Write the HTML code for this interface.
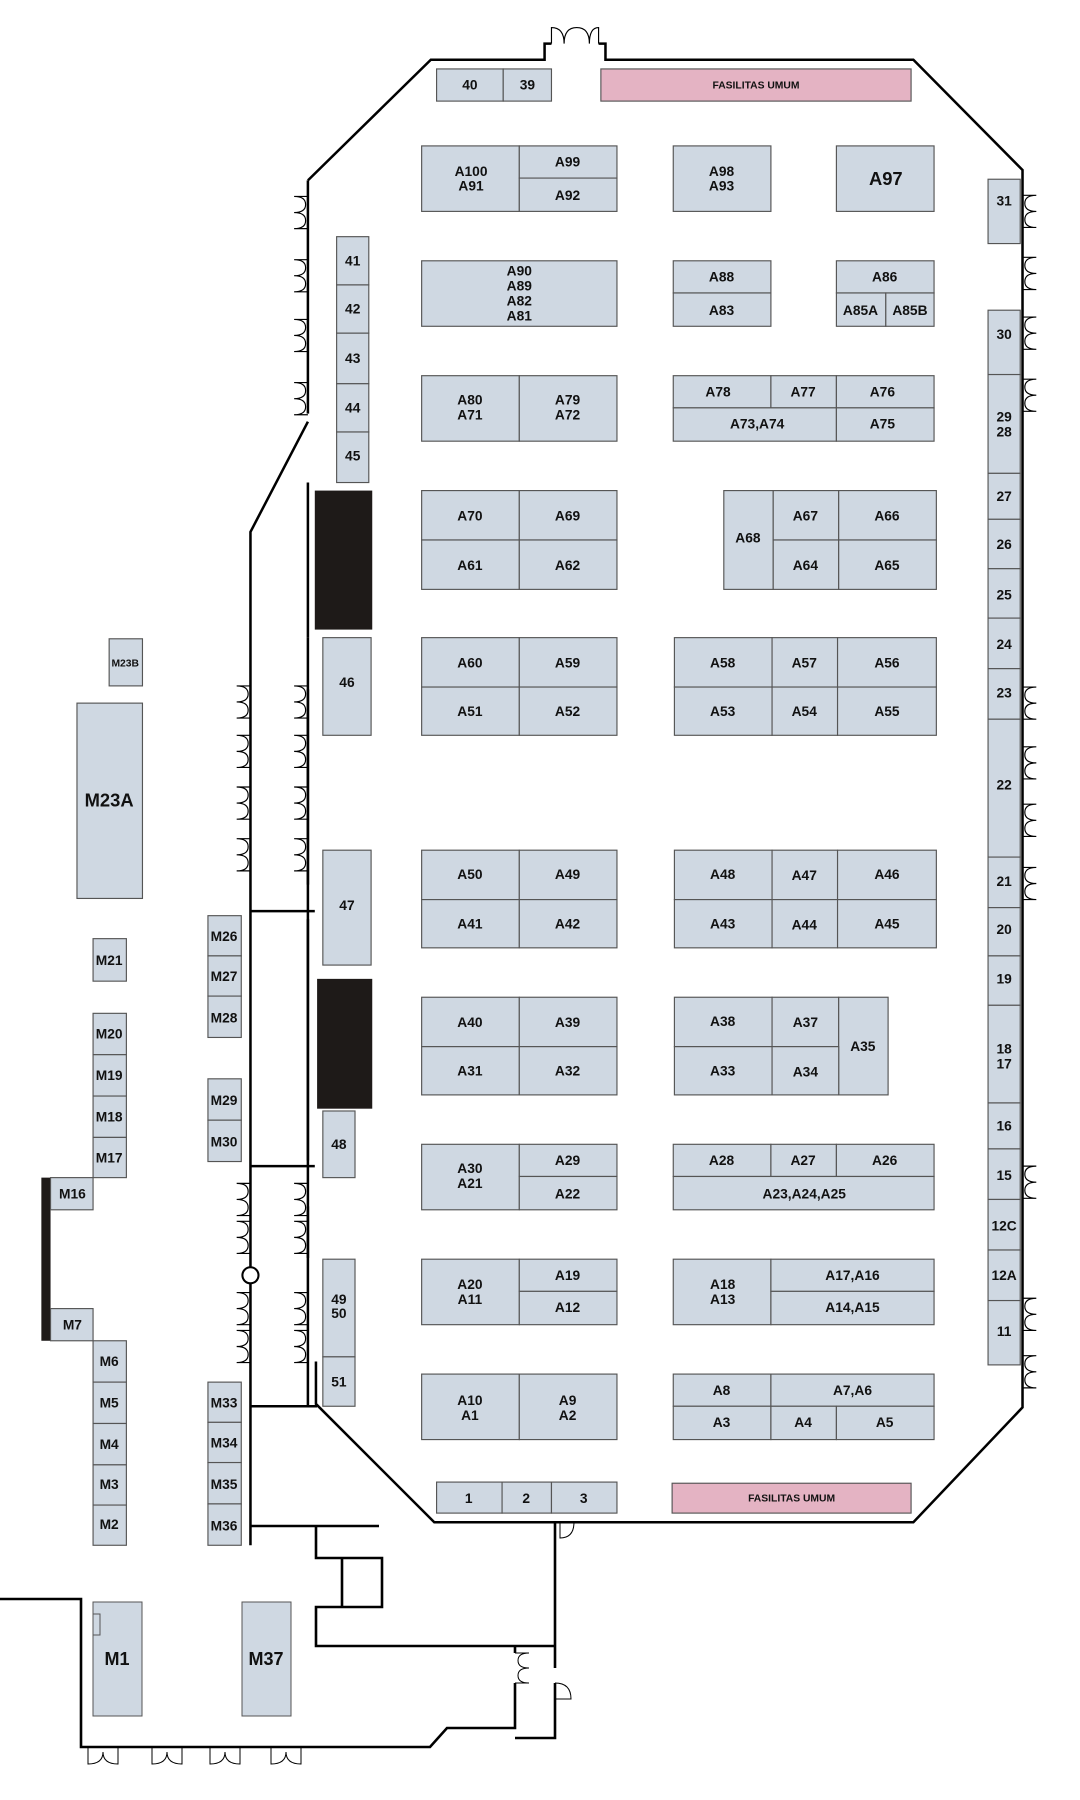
<!DOCTYPE html>
<html><head><meta charset="utf-8"><style>
html,body{margin:0;padding:0;background:#fff;width:1080px;height:1800px;overflow:hidden}
svg{display:block}
.b{fill:#cfd8e2;stroke:#555;stroke-width:1}
.p{fill:#e4b3c3;stroke:#555;stroke-width:1}
.k{fill:#1e1a18}
.w{fill:none;stroke:#000;stroke-width:2.2}
.d{fill:none;stroke:#000;stroke-width:1}
text{font-family:"Liberation Sans",sans-serif;font-weight:bold;font-size:12px;fill:#111;text-anchor:middle}
.s{font-size:9px}
.L{font-size:16px}
</style></head><body>
<svg width="1080" height="1800" viewBox="0 0 1080 1800" xmlns="http://www.w3.org/2000/svg">
<defs>
<path id="dl" class="d" d="M0,0 h-12 q10,0 10,7 q0,7 -10,7 q10,0 10,7 q0,7 -10,7 h12"/>
<path id="dr" class="d" d="M0,0 h12 q-10,0 -10,7 q0,7 10,7 q-10,0 -10,7 q0,7 10,7 h-12"/>
</defs>
<g transform="scale(1.1489)">
<!-- main hall outline -->
<path class="w" d="M268,157 L375,52 H474 V38 H480 M521,38 H527 V52 H795 L890,148 V1225 L795,1325 H378 L275,1222 V1185 M268,1095 V1050 M268,1010 V800 M268,770 V600 M268,555 V420 M268,360 V157"/>
<path class="d" d="M480,38 v-14 q11,0 11,14 q0,-14 11,-14 q11,0 11,14 q0,-14 8,-14 v14"/>
<!-- corridor walls -->
<path class="w" d="M268,367 L218,463 V1345 M218,793 H274 M218,1015 H274 M218,1224 H276 M268,555 V1224"/>
<circle cx="218" cy="1110" r="7" fill="#fff" stroke="#000" stroke-width="1.8"/>
<!-- doors left wall main -->
<use href="#dl" x="268" y="171"/><use href="#dl" x="268" y="226"/><use href="#dl" x="268" y="278"/><use href="#dl" x="268" y="333"/>
<use href="#dl" x="268" y="597"/><use href="#dl" x="268" y="640"/><use href="#dl" x="268" y="685"/><use href="#dl" x="268" y="730"/>
<use href="#dl" x="268" y="1030"/><use href="#dl" x="268" y="1063"/><use href="#dl" x="268" y="1125"/><use href="#dl" x="268" y="1158"/>
<use href="#dl" x="218" y="597"/><use href="#dl" x="218" y="640"/><use href="#dl" x="218" y="685"/><use href="#dl" x="218" y="730"/>
<use href="#dl" x="218" y="1030"/><use href="#dl" x="218" y="1063"/><use href="#dl" x="218" y="1125"/><use href="#dl" x="218" y="1158"/>
<!-- right wall doors -->
<use href="#dr" x="890" y="170"/><use href="#dr" x="890" y="224"/><use href="#dr" x="890" y="276"/><use href="#dr" x="890" y="330"/>
<use href="#dr" x="890" y="598"/><use href="#dr" x="890" y="650"/><use href="#dr" x="890" y="700"/><use href="#dr" x="890" y="755"/>
<use href="#dr" x="890" y="1015"/><use href="#dr" x="890" y="1130"/><use href="#dr" x="890" y="1180"/>

<!-- top -->
<rect class="b" x="380" y="60" width="58" height="28"/><text x="409" y="78">40</text>
<rect class="b" x="438" y="60" width="42" height="28"/><text x="459" y="78">39</text>
<rect class="p" x="523" y="60" width="270" height="28"/><text class="s" x="658" y="77">FASILITAS UMUM</text>
<!-- row1 -->
<rect class="b" x="367" y="127" width="85" height="57"/><text x="410" y="153">A100</text><text x="410" y="166">A91</text>
<rect class="b" x="452" y="127" width="85" height="28"/><text x="494" y="145">A99</text>
<rect class="b" x="452" y="155" width="85" height="29"/><text x="494" y="174">A92</text>
<rect class="b" x="586" y="127" width="85" height="57"/><text x="628" y="153">A98</text><text x="628" y="166">A93</text>
<rect class="b" x="728" y="127" width="85" height="57"/><text class="L" x="771" y="161">A97</text>
<!-- row2 -->
<rect class="b" x="367" y="227" width="170" height="57"/><text x="452" y="240">A90</text><text x="452" y="253">A89</text><text x="452" y="266">A82</text><text x="452" y="279">A81</text>
<rect class="b" x="586" y="227" width="85" height="28"/><text x="628" y="245">A88</text>
<rect class="b" x="586" y="255" width="85" height="29"/><text x="628" y="274">A83</text>
<rect class="b" x="728" y="227" width="85" height="28"/><text x="770" y="245">A86</text>
<rect class="b" x="728" y="255" width="43" height="29"/><text x="749" y="274">A85A</text>
<rect class="b" x="771" y="255" width="42" height="29"/><text x="792" y="274">A85B</text>
<!-- 41-45 -->
<rect class="b" x="293" y="206" width="28" height="42"/><text x="307" y="231">41</text>
<rect class="b" x="293" y="248" width="28" height="42"/><text x="307" y="273">42</text>
<rect class="b" x="293" y="290" width="28" height="44"/><text x="307" y="316">43</text>
<rect class="b" x="293" y="334" width="28" height="42"/><text x="307" y="359">44</text>
<rect class="b" x="293" y="376" width="28" height="44"/><text x="307" y="401">45</text>
<!-- right column -->
<rect class="b" x="860" y="156" width="28" height="56"/><text x="874" y="179">31</text>
<rect class="b" x="860" y="270" width="28" height="56"/><text x="874" y="295">30</text>
<rect class="b" x="860" y="326" width="28" height="86"/><text x="874" y="367">29</text><text x="874" y="380">28</text>
<rect class="b" x="860" y="412" width="28" height="40"/><text x="874" y="436">27</text>
<rect class="b" x="860" y="452" width="28" height="43"/><text x="874" y="478">26</text>
<rect class="b" x="860" y="495" width="28" height="43"/><text x="874" y="522">25</text>
<rect class="b" x="860" y="538" width="28" height="44"/><text x="874" y="565">24</text>
<rect class="b" x="860" y="582" width="28" height="44"/><text x="874" y="607">23</text>
<rect class="b" x="860" y="626" width="28" height="120"/><text x="874" y="687">22</text>
<rect class="b" x="860" y="746" width="28" height="44"/><text x="874" y="771">21</text>
<rect class="b" x="860" y="790" width="28" height="42"/><text x="874" y="813">20</text>
<rect class="b" x="860" y="832" width="28" height="43"/><text x="874" y="856">19</text>
<rect class="b" x="860" y="875" width="28" height="85"/><text x="874" y="917">18</text><text x="874" y="930">17</text>
<rect class="b" x="860" y="960" width="28" height="40"/><text x="874" y="984">16</text>
<rect class="b" x="860" y="1000" width="28" height="44"/><text x="874" y="1027">15</text>
<rect class="b" x="860" y="1044" width="28" height="44"/><text x="874" y="1071">12C</text>
<rect class="b" x="860" y="1088" width="28" height="44"/><text x="874" y="1114">12A</text>
<rect class="b" x="860" y="1132" width="28" height="56"/><text x="874" y="1163">11</text>
<!-- row3 -->
<rect class="b" x="367" y="327" width="85" height="57"/><text x="409" y="352">A80</text><text x="409" y="365">A71</text>
<rect class="b" x="452" y="327" width="85" height="57"/><text x="494" y="352">A79</text><text x="494" y="365">A72</text>
<rect class="b" x="586" y="327" width="85" height="28"/><text x="625" y="345">A78</text>
<rect class="b" x="671" y="327" width="57" height="28"/><text x="699" y="345">A77</text>
<rect class="b" x="728" y="327" width="85" height="28"/><text x="768" y="345">A76</text>
<rect class="b" x="586" y="355" width="142" height="29"/><text x="659" y="373">A73,A74</text>
<rect class="b" x="728" y="355" width="85" height="29"/><text x="768" y="373">A75</text>
<!-- row4 -->
<rect class="k" x="274" y="427" width="50" height="121"/>
<rect class="b" x="367" y="427" width="85" height="43"/><text x="409" y="453">A70</text>
<rect class="b" x="452" y="427" width="85" height="43"/><text x="494" y="453">A69</text>
<rect class="b" x="367" y="470" width="85" height="43"/><text x="409" y="496">A61</text>
<rect class="b" x="452" y="470" width="85" height="43"/><text x="494" y="496">A62</text>
<rect class="b" x="630" y="427" width="43" height="86"/><text x="651" y="472">A68</text>
<rect class="b" x="673" y="427" width="57" height="43"/><text x="701" y="453">A67</text>
<rect class="b" x="730" y="427" width="85" height="43"/><text x="772" y="453">A66</text>
<rect class="b" x="673" y="470" width="57" height="43"/><text x="701" y="496">A64</text>
<rect class="b" x="730" y="470" width="85" height="43"/><text x="772" y="496">A65</text>
<!-- row5 -->
<rect class="b" x="281" y="555" width="42" height="85"/><text x="302" y="598">46</text>
<rect class="b" x="367" y="555" width="85" height="43"/><text x="409" y="581">A60</text>
<rect class="b" x="452" y="555" width="85" height="43"/><text x="494" y="581">A59</text>
<rect class="b" x="367" y="598" width="85" height="42"/><text x="409" y="623">A51</text>
<rect class="b" x="452" y="598" width="85" height="42"/><text x="494" y="623">A52</text>
<rect class="b" x="587" y="555" width="85" height="43"/><text x="629" y="581">A58</text>
<rect class="b" x="672" y="555" width="57" height="43"/><text x="700" y="581">A57</text>
<rect class="b" x="729" y="555" width="86" height="43"/><text x="772" y="581">A56</text>
<rect class="b" x="587" y="598" width="85" height="42"/><text x="629" y="623">A53</text>
<rect class="b" x="672" y="598" width="57" height="42"/><text x="700" y="623">A54</text>
<rect class="b" x="729" y="598" width="86" height="42"/><text x="772" y="623">A55</text>
<!-- row6 -->
<rect class="b" x="281" y="740" width="42" height="100"/><text x="302" y="792">47</text>
<rect class="b" x="367" y="740" width="85" height="43"/><text x="409" y="765">A50</text>
<rect class="b" x="452" y="740" width="85" height="43"/><text x="494" y="765">A49</text>
<rect class="b" x="367" y="783" width="85" height="42"/><text x="409" y="808">A41</text>
<rect class="b" x="452" y="783" width="85" height="42"/><text x="494" y="808">A42</text>
<rect class="b" x="587" y="740" width="85" height="43"/><text x="629" y="765">A48</text>
<rect class="b" x="672" y="740" width="57" height="43"/><text x="700" y="766">A47</text>
<rect class="b" x="729" y="740" width="86" height="43"/><text x="772" y="765">A46</text>
<rect class="b" x="587" y="783" width="85" height="42"/><text x="629" y="808">A43</text>
<rect class="b" x="672" y="783" width="57" height="42"/><text x="700" y="809">A44</text>
<rect class="b" x="729" y="783" width="86" height="42"/><text x="772" y="808">A45</text>
<!-- row7 -->
<rect class="k" x="276" y="852" width="48" height="113"/>
<rect class="b" x="281" y="967" width="28" height="58"/><text x="295" y="1000">48</text>
<rect class="b" x="367" y="868" width="85" height="43"/><text x="409" y="894">A40</text>
<rect class="b" x="452" y="868" width="85" height="43"/><text x="494" y="894">A39</text>
<rect class="b" x="367" y="911" width="85" height="42"/><text x="409" y="936">A31</text>
<rect class="b" x="452" y="911" width="85" height="42"/><text x="494" y="936">A32</text>
<rect class="b" x="587" y="868" width="85" height="43"/><text x="629" y="893">A38</text>
<rect class="b" x="672" y="868" width="58" height="43"/><text x="701" y="894">A37</text>
<rect class="b" x="730" y="868" width="43" height="85"/><text x="751" y="915">A35</text>
<rect class="b" x="587" y="911" width="85" height="42"/><text x="629" y="936">A33</text>
<rect class="b" x="672" y="911" width="58" height="42"/><text x="701" y="937">A34</text>
<!-- row8 -->
<rect class="b" x="367" y="996" width="85" height="57"/><text x="409" y="1021">A30</text><text x="409" y="1034">A21</text>
<rect class="b" x="452" y="996" width="85" height="28"/><text x="494" y="1014">A29</text>
<rect class="b" x="452" y="1024" width="85" height="29"/><text x="494" y="1043">A22</text>
<rect class="b" x="586" y="996" width="85" height="28"/><text x="628" y="1014">A28</text>
<rect class="b" x="671" y="996" width="57" height="28"/><text x="699" y="1014">A27</text>
<rect class="b" x="728" y="996" width="85" height="28"/><text x="770" y="1014">A26</text>
<rect class="b" x="586" y="1024" width="227" height="29"/><text x="700" y="1043">A23,A24,A25</text>
<!-- row9 -->
<rect class="b" x="281" y="1096" width="28" height="85"/><text x="295" y="1135">49</text><text x="295" y="1147">50</text>
<rect class="b" x="281" y="1181" width="28" height="43"/><text x="295" y="1207">51</text>
<rect class="b" x="367" y="1096" width="85" height="57"/><text x="409" y="1122">A20</text><text x="409" y="1135">A11</text>
<rect class="b" x="452" y="1096" width="85" height="28"/><text x="494" y="1114">A19</text>
<rect class="b" x="452" y="1124" width="85" height="29"/><text x="494" y="1142">A12</text>
<rect class="b" x="586" y="1096" width="85" height="57"/><text x="629" y="1122">A18</text><text x="629" y="1135">A13</text>
<rect class="b" x="671" y="1096" width="142" height="28"/><text x="742" y="1114">A17,A16</text>
<rect class="b" x="671" y="1124" width="142" height="29"/><text x="742" y="1142">A14,A15</text>
<!-- row10 -->
<rect class="b" x="367" y="1196" width="85" height="57"/><text x="409" y="1223">A10</text><text x="409" y="1236">A1</text>
<rect class="b" x="452" y="1196" width="85" height="57"/><text x="494" y="1223">A9</text><text x="494" y="1236">A2</text>
<rect class="b" x="586" y="1196" width="85" height="28"/><text x="628" y="1214">A8</text>
<rect class="b" x="671" y="1196" width="142" height="28"/><text x="742" y="1214">A7,A6</text>
<rect class="b" x="586" y="1224" width="85" height="29"/><text x="628" y="1242">A3</text>
<rect class="b" x="671" y="1224" width="57" height="29"/><text x="699" y="1242">A4</text>
<rect class="b" x="728" y="1224" width="85" height="29"/><text x="770" y="1242">A5</text>
<!-- bottom row -->
<rect class="b" x="380" y="1290" width="57" height="27"/><text x="408" y="1308">1</text>
<rect class="b" x="437" y="1290" width="43" height="27"/><text x="458" y="1308">2</text>
<rect class="b" x="480" y="1290" width="57" height="27"/><text x="508" y="1308">3</text>
<rect class="p" x="585" y="1291" width="208" height="26"/><text class="s" x="689" y="1307">FASILITAS UMUM</text>
<!-- left M booths -->
<rect class="b" x="95" y="556" width="29" height="41"/><text class="s" x="109" y="580">M23B</text>
<rect class="b" x="67" y="612" width="57" height="170"/><text class="L" x="95" y="702">M23A</text>
<rect class="b" x="81" y="817" width="29" height="37"/><text x="95" y="840">M21</text>
<rect class="b" x="81" y="882" width="29" height="36"/><text x="95" y="904">M20</text>
<rect class="b" x="81" y="918" width="29" height="36"/><text x="95" y="940">M19</text>
<rect class="b" x="81" y="954" width="29" height="36"/><text x="95" y="976">M18</text>
<rect class="b" x="81" y="990" width="29" height="35"/><text x="95" y="1012">M17</text>
<rect class="k" x="36" y="1025" width="8" height="142"/>
<rect class="b" x="44" y="1025" width="37" height="28"/><text x="63" y="1043">M16</text>
<rect class="b" x="44" y="1139" width="37" height="28"/><text x="63" y="1157">M7</text>
<rect class="b" x="81" y="1167" width="29" height="36"/><text x="95" y="1189">M6</text>
<rect class="b" x="81" y="1203" width="29" height="36"/><text x="95" y="1225">M5</text>
<rect class="b" x="81" y="1239" width="29" height="36"/><text x="95" y="1261">M4</text>
<rect class="b" x="81" y="1275" width="29" height="35"/><text x="95" y="1296">M3</text>
<rect class="b" x="81" y="1310" width="29" height="35"/><text x="95" y="1331">M2</text>
<rect class="b" x="181" y="797" width="29" height="35"/><text x="195" y="819">M26</text>
<rect class="b" x="181" y="832" width="29" height="35"/><text x="195" y="854">M27</text>
<rect class="b" x="181" y="867" width="29" height="36"/><text x="195" y="890">M28</text>
<rect class="b" x="181" y="939" width="29" height="36"/><text x="195" y="962">M29</text>
<rect class="b" x="181" y="975" width="29" height="36"/><text x="195" y="998">M30</text>
<rect class="b" x="181" y="1203" width="29" height="35"/><text x="195" y="1225">M33</text>
<rect class="b" x="181" y="1238" width="29" height="35"/><text x="195" y="1260">M34</text>
<rect class="b" x="181" y="1273" width="29" height="36"/><text x="195" y="1296">M35</text>
<rect class="b" x="181" y="1309" width="29" height="36"/><text x="195" y="1332">M36</text>
</g>
<!-- bottom area in original coords -->
<path class="w" style="stroke-width:2.6" d="M0,1599 H81 V1747 H430 L447,1728 H515 V1683 M515,1653 V1646 M555,1522 V1668 M555,1683 V1738 H515 M250,1526 H379 M316,1526 V1558 H382 V1607 H316 V1646 H555 M342,1558 V1607"/>
<path class="d" d="M515,1653 h14 q-11,0 -11,7.5 q0,7.5 11,7.5 q-11,0 -11,7.5 q0,7.5 11,7.5 h-14 M555,1683 q16,0 16,16 h-16 M560,1522 v16 q14,0 14,-16"/>
<rect x="93" y="1602" width="49" height="114" fill="#cfd8e2" stroke="#555"/>
<rect x="93" y="1614" width="7" height="21" fill="none" stroke="#555"/>
<text x="117" y="1665" style="font-size:18px">M1</text>
<rect x="242" y="1602" width="49" height="114" fill="#cfd8e2" stroke="#555"/>
<text x="266" y="1665" style="font-size:18px">M37</text>
<path class="d" d="M88,1747 v17 q15,0 15,-12 q0,12 15,12 v-17 M152,1747 v17 q15,0 15,-12 q0,12 15,12 v-17 M210,1747 v17 q15,0 15,-12 q0,12 15,12 v-17 M271,1747 v17 q15,0 15,-12 q0,12 15,12 v-17"/>
</svg>
</body></html>
